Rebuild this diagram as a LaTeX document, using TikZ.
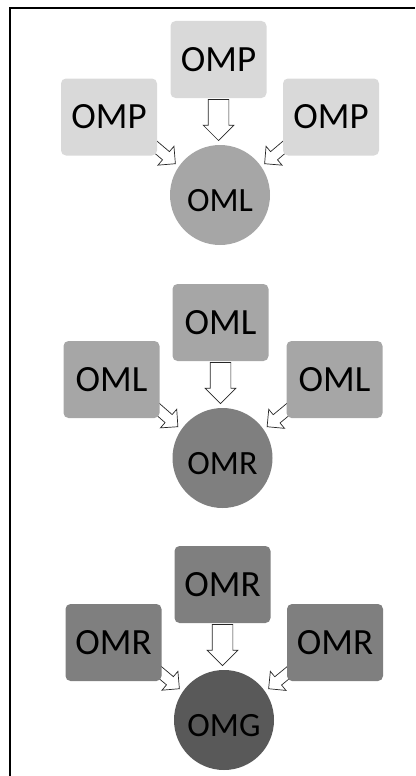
\documentclass[tikz,border=0pt]{standalone}
\usepackage{fontspec}
\setmainfont{Carlito}
\usetikzlibrary{shapes.arrows,backgrounds}
\definecolor{ompgray}{HTML}{D9D9D9}
\definecolor{omlgray}{HTML}{A6A6A6}
\definecolor{omrgray}{HTML}{7F7F7F}
\definecolor{omggray}{HTML}{595959}

\tikzset{
  srcbox/.style={rectangle, rounded corners=5pt, minimum width=96pt, minimum height=77pt, inner sep=0pt, font=\fontsize{37}{40}\selectfont},
  hub/.style={circle, minimum size=100pt, inner sep=0pt, outer sep=4pt, text height=34pt, font=\fontsize{34}{37}\selectfont},
  flow/.style={single arrow, draw=black!85, fill=white, line width=0.7pt, single arrow tip angle=90, inner xsep=0pt, anchor=tip, sloped, allow upside down},
  bigflow/.style={flow, inner ysep=10pt, single arrow head extend=5pt, minimum height=41pt},
  smallflow/.style={flow, inner ysep=5pt, single arrow head extend=7pt, minimum height=40pt}
}

\begin{document}
\begin{tikzpicture}[x=1pt, y=-1pt]
    \useasboundingbox (0,0) rectangle (415,776);

    % Frame
    \draw[line width=2.5pt] (10,776) -- (10,8) -- (415,8);

    % Level 1
    \node[hub, fill=omlgray] (c1) at (220,195) {OML};
    \node[srcbox, fill=ompgray] (t1) at (218.5,59.5) {OMP};
    \node[srcbox, fill=ompgray] (l1) at (109,117) {OMP};
    \node[srcbox, fill=ompgray] (r1) at (331,117) {OMP};

    % Level 2
    \node[hub, fill=omrgray] (c2) at (222.5,458) {OMR};
    \node[srcbox, fill=omlgray] (t2) at (220.5,322.5) {OML};
    \node[srcbox, fill=omlgray] (l2) at (111.5,379.5) {OML};
    \node[srcbox, fill=omlgray] (r2) at (334.5,379.5) {OML};

    % Level 3
    \node[hub, fill=omggray] (c3) at (224,720) {OMG};
    \node[srcbox, fill=omrgray] (t3) at (222.5,584.5) {OMR};
    \node[srcbox, fill=omrgray] (l3) at (113.5,642.5) {OMR};
    \node[srcbox, fill=omrgray] (r3) at (335,642.5) {OMR};

    % Block arrows, under the boxes
    \begin{scope}[on background layer]
    \path (t1.south) -- (t1.south |- c1.north) node[bigflow, pos=1] {};
    \path (l1.-33) -- (c1.145) node[smallflow, pos=1] {};
    \path (r1.-147) -- (c1.35) node[smallflow, pos=1] {};

    \path (t2.south) -- (t2.south |- c2.north) node[bigflow, pos=1] {};
    \path (l2.-33) -- (c2.145) node[smallflow, pos=1] {};
    \path (r2.-147) -- (c2.35) node[smallflow, pos=1] {};

    \path (t3.south) -- (t3.south |- c3.north) node[bigflow, pos=1] {};
    \path (l3.-33) -- (c3.145) node[smallflow, pos=1] {};
    \path (r3.-147) -- (c3.35) node[smallflow, pos=1] {};
    \end{scope}
\end{tikzpicture}
\end{document}
